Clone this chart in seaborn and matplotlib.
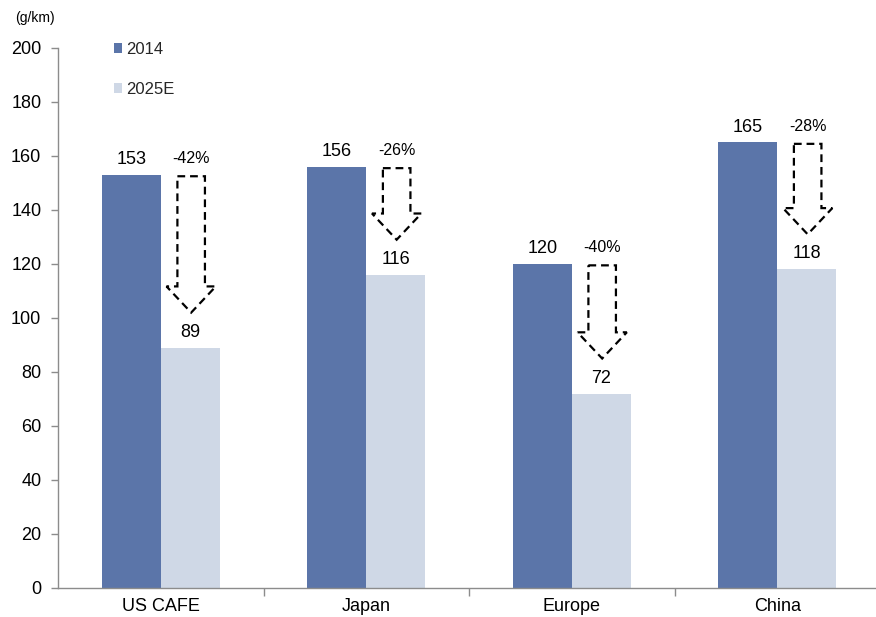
import matplotlib
matplotlib.use("Agg")
import matplotlib.pyplot as plt
from matplotlib.patches import Polygon
import seaborn as sns
import pandas as pd

# CO2 emission targets by market (g/km)
regions = ["US CAFE", "Japan", "Europe", "China"]
years = ["2014", "2025E"]
values_2014 = [153, 156, 120, 165]
values_2025 = [89, 116, 72, 118]
reductions = ["-42%", "-26%", "-40%", "-28%"]
yticks = [0, 20, 40, 60, 80, 100, 120, 140, 160, 180, 200]

df = pd.DataFrame({
    "region": regions * 2,
    "year": [years[0]] * len(regions) + [years[1]] * len(regions),
    "value": values_2014 + values_2025,
})

sns.set_theme(style="white")
plt.rcParams["font.family"] = ["Liberation Sans", "DejaVu Sans"]

dark = "#5B75A9"
light = "#CFD8E6"
spine_col = "#8C8C8C"

fig = plt.figure(figsize=(8.76, 6.17), dpi=100)
ax = fig.add_axes([58 / 876, 1 - 588 / 617, 822 / 876, 540 / 617])

sns.barplot(data=df, x="region", y="value", hue="year", palette=[dark, light],
            width=0.575, saturation=1, linewidth=0, ax=ax)

ax.set_xlim(-0.5, 3.5)
ax.set_ylim(0, 200)
ax.set_yticks(yticks)
ax.set_xlabel("")
ax.set_ylabel("")

for side in ("top", "right"):
    ax.spines[side].set_visible(False)
for side in ("left", "bottom"):
    ax.spines[side].set_color(spine_col)
    ax.spines[side].set_linewidth(1.0)

ax.tick_params(axis="y", which="major", direction="out", length=5, width=1,
               color=spine_col, pad=7, labelsize=13, labelcolor="black", left=True)
ax.tick_params(axis="x", which="major", length=0, pad=7, labelsize=13, labelcolor="black")
ax.set_xticks([0.5, 1.5, 2.5, 3.5], minor=True)
ax.tick_params(axis="x", which="minor", direction="out", length=6, width=1,
               color=spine_col, bottom=True)

# value labels on top of each bar
for container in ax.containers:
    ax.bar_label(container, fmt="%d", padding=5, fontsize=13, color="black")

# dashed downward arrows showing the reduction
offset = 0.148
body_hw = 0.067
head_hw = 0.12
head_len = 9.7
for i, (v0, v1, lab) in enumerate(zip(values_2014, values_2025, reductions)):
    cx = i + offset
    top = v0 - 0.5
    tip = v1 + 13
    base = tip + head_len
    verts = [
        (cx - body_hw, top), (cx + body_hw, top), (cx + body_hw, base),
        (cx + head_hw, base), (cx, tip), (cx - head_hw, base),
        (cx - body_hw, base),
    ]
    arrow = Polygon(verts, closed=True, fill=False, edgecolor="black",
                    linewidth=1.6, linestyle=(0, (3.5, 2.2)), zorder=5,
                    joinstyle="miter")
    ax.add_patch(arrow)
    ax.text(cx, top + 6.5, lab, ha="center", va="center", fontsize=11.5, color="black")

leg = ax.legend(loc="upper left", bbox_to_anchor=(0.068, 1.011), frameon=False,
                title=None, fontsize=12, handlelength=0.5, handleheight=0.5,
                handletextpad=0.25, labelspacing=1.5, borderpad=0, borderaxespad=0)

fig.text(35 / 876, 1 - 18 / 617, "(g/km)", ha="center", va="center",
         fontsize=10, color="black")

fig.savefig("out.png", dpi=100)
